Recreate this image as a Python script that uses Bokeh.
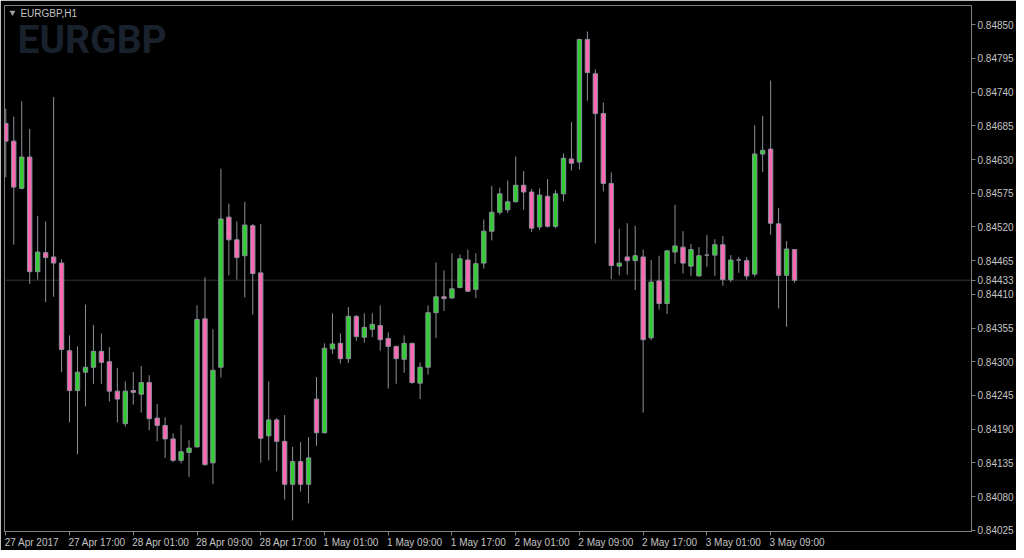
from bokeh.plotting import figure
from bokeh.models import Range1d, FixedTicker, Span, Label, PrintfTickFormatter, LinearAxis
from bokeh.embed import file_html
from bokeh.resources import INLINE

symbol = "EURGBP"
title_text = "EURGBP,H1"

opens = [
    0.84689, 0.84660, 0.84583, 0.84634, 0.84447, 0.84478, 0.84471, 0.84461, 0.84318, 0.84253,
    0.84283, 0.84291, 0.84317, 0.84300, 0.84252, 0.84199, 0.84253, 0.84247, 0.84266, 0.84208,
    0.84196, 0.84174, 0.84139, 0.84152, 0.84161, 0.84370, 0.84135, 0.84291, 0.84536, 0.84499,
    0.84473, 0.84522, 0.84445, 0.84179, 0.84205, 0.84170, 0.84100, 0.84137, 0.84100, 0.84239,
    0.84184, 0.84321, 0.84330, 0.84305, 0.84374, 0.84340, 0.84353, 0.84359, 0.84338, 0.84325,
    0.84304, 0.84330, 0.84265, 0.84291, 0.84380, 0.84406, 0.84404, 0.84421, 0.84466, 0.84418,
    0.84461, 0.84513, 0.84544, 0.84548, 0.84561, 0.84588, 0.84577, 0.84520, 0.84570, 0.84521,
    0.84574, 0.84631, 0.84626, 0.84826, 0.84770, 0.84705, 0.84591, 0.84456, 0.84471, 0.84465,
    0.84471, 0.84339, 0.84432, 0.84395, 0.84479, 0.84487, 0.84456, 0.84440, 0.84474, 0.84474,
    0.84491, 0.84434, 0.84466, 0.84465, 0.84443, 0.84639, 0.84647, 0.84525, 0.84441, 0.84483,
]
closes = [
    0.84660, 0.84585, 0.84634, 0.84447, 0.84479, 0.84470, 0.84461, 0.84320, 0.84253, 0.84283,
    0.84291, 0.84317, 0.84299, 0.84252, 0.84239, 0.84252, 0.84250, 0.84266, 0.84207, 0.84196,
    0.84174, 0.84139, 0.84153, 0.84159, 0.84369, 0.84132, 0.84286, 0.84533, 0.84499, 0.84470,
    0.84523, 0.84444, 0.84175, 0.84205, 0.84170, 0.84100, 0.84137, 0.84100, 0.84143, 0.84184,
    0.84322, 0.84329, 0.84305, 0.84374, 0.84341, 0.84356, 0.84361, 0.84336, 0.84325, 0.84305,
    0.84330, 0.84266, 0.84291, 0.84380, 0.84406, 0.84403, 0.84419, 0.84468, 0.84415, 0.84460,
    0.84513, 0.84544, 0.84574, 0.84561, 0.84588, 0.84577, 0.84518, 0.84572, 0.84521, 0.84574,
    0.84632, 0.84624, 0.84826, 0.84772, 0.84705, 0.84591, 0.84457, 0.84461, 0.84465, 0.84473,
    0.84336, 0.84430, 0.84395, 0.84481, 0.84489, 0.84461, 0.84483, 0.84473, 0.84474, 0.84491,
    0.84434, 0.84466, 0.84466, 0.84440, 0.84639, 0.84645, 0.84526, 0.84441, 0.84484, 0.84433,
]
highs = [
    0.84713, 0.84700, 0.84725, 0.84680, 0.84538, 0.84529, 0.84732, 0.84467, 0.84343, 0.84325,
    0.84393, 0.84360, 0.84346, 0.84324, 0.84290, 0.84268, 0.84283, 0.84293, 0.84278, 0.84231,
    0.84209, 0.84183, 0.84197, 0.84172, 0.84392, 0.84438, 0.84353, 0.84615, 0.84558, 0.84529,
    0.84561, 0.84525, 0.84525, 0.84268, 0.84208, 0.84213, 0.84161, 0.84169, 0.84177, 0.84275,
    0.84330, 0.84379, 0.84346, 0.84389, 0.84376, 0.84379, 0.84379, 0.84392, 0.84348, 0.84326,
    0.84343, 0.84331, 0.84299, 0.84392, 0.84462, 0.84449, 0.84477, 0.84475, 0.84483, 0.84477,
    0.84532, 0.84587, 0.84584, 0.84596, 0.84635, 0.84611, 0.84582, 0.84583, 0.84598, 0.84580,
    0.84640, 0.84691, 0.84827, 0.84839, 0.84777, 0.84723, 0.84609, 0.84517, 0.84526, 0.84522,
    0.84483, 0.84466, 0.84473, 0.84481, 0.84556, 0.84513, 0.84492, 0.84487, 0.84507, 0.84500,
    0.84505, 0.84474, 0.84471, 0.84471, 0.84686, 0.84701, 0.84759, 0.84551, 0.84497, 0.84484,
]
lows = [
    0.84601, 0.84491, 0.84581, 0.84427, 0.84434, 0.84397, 0.84406, 0.84283, 0.84201, 0.84149,
    0.84227, 0.84264, 0.84264, 0.84235, 0.84201, 0.84194, 0.84230, 0.84217, 0.84188, 0.84170,
    0.84143, 0.84136, 0.84134, 0.84112, 0.84160, 0.84130, 0.84100, 0.84274, 0.84441, 0.84434,
    0.84405, 0.84377, 0.84135, 0.84139, 0.84121, 0.84075, 0.84041, 0.84088, 0.84069, 0.84163,
    0.84183, 0.84313, 0.84297, 0.84298, 0.84334, 0.84331, 0.84340, 0.84318, 0.84256, 0.84264,
    0.84282, 0.84264, 0.84239, 0.84279, 0.84339, 0.84383, 0.84403, 0.84420, 0.84414, 0.84404,
    0.84452, 0.84498, 0.84540, 0.84543, 0.84560, 0.84548, 0.84512, 0.84515, 0.84519, 0.84518,
    0.84562, 0.84612, 0.84614, 0.84726, 0.84493, 0.84578, 0.84435, 0.84441, 0.84442, 0.84417,
    0.84217, 0.84335, 0.84385, 0.84378, 0.84460, 0.84444, 0.84440, 0.84439, 0.84455, 0.84440,
    0.84424, 0.84430, 0.84445, 0.84434, 0.84439, 0.84610, 0.84507, 0.84387, 0.84357, 0.84429,
]

time_tick_index = [0, 8, 16, 24, 32, 40, 48, 56, 64, 72, 80, 88, 96]
time_tick_labels = [
    "27 Apr 2017", "27 Apr 17:00", "28 Apr 01:00", "28 Apr 09:00", "28 Apr 17:00",
    "1 May 01:00", "1 May 09:00", "1 May 17:00", "2 May 01:00", "2 May 09:00",
    "2 May 17:00", "3 May 01:00", "3 May 09:00",
]
price_ticks = [
    0.84025, 0.84080, 0.84135, 0.84190, 0.84245, 0.84300, 0.84355, 0.84410,
    0.84465, 0.84520, 0.84575, 0.84630, 0.84685, 0.84740, 0.84795, 0.84850,
]
last_price = 0.84433

# ---- styling / layout ----
BG = "#000000"
FG = "#c4c4c4"
FRAME = "#808080"
WICK = "#8a909a"
BULL = "#32cd32"
BEAR = "#ff69b4"
FONT = "Liberation Sans"
FS = 10

W, H = 1016, 550
FL, FT = 4, 5            # frame left / top (px)
FW, FH = 971, 528        # approx frame size (px)
X0 = -0.1625
X1 = X0 + FW / 8.0       # 8 px per hourly bar
Y1 = 0.848814
Y0 = 0.840229
PPU = FW / (X1 - X0)


def xd(px):
    return X0 + (px - FL) / PPU


def yd(py):
    return Y1 - (py - FT) * (Y1 - Y0) / FH


# approximate advance widths (em) of Liberation Sans, used to left-align
# the time labels to their tick marks
_CW = {"A": 0.667, "M": 0.833, "p": 0.556, "r": 0.333, "a": 0.556, "y": 0.5,
       " ": 0.278, ":": 0.278}


def text_w(s):
    return sum(_CW.get(ch, 0.556) for ch in s) * FS


p = figure(
    width=W, height=H,
    x_range=Range1d(X0, X1), y_range=Range1d(Y0, Y1),
    output_backend="svg", toolbar_location=None,
    y_axis_location="right", x_axis_location=None,
    background_fill_color=BG, border_fill_color=BG,
    min_border_left=FL, min_border_top=FT,
    min_border_right=41, min_border_bottom=15,
)
p.outline_line_color = FRAME
p.outline_line_width = 1
p.grid.visible = False

# y axis (right); the last price is also marked on the scale
ya = p.yaxis[0]
ya.ticker = FixedTicker(ticks=price_ticks + [last_price])
ya.formatter = PrintfTickFormatter(format="%.5f")
ya.major_tick_out = 4
ya.major_tick_in = 0
ya.minor_tick_out = 0
ya.minor_tick_in = 0
ya.major_tick_line_color = FRAME
ya.axis_line_color = FRAME
ya.major_label_standoff = 2
ya.major_label_text_color = FG
ya.major_label_text_font = FONT
ya.major_label_text_font_size = f"{FS}px"

# x axis: tick marks (minor ticks) at the bars, labels placed so they start at the tick
centers = [round(i + (text_w(t) / 2 - 1) / PPU, 4) for i, t in zip(time_tick_index, time_tick_labels)]
xa = LinearAxis(
    ticker=FixedTicker(ticks=centers, minor_ticks=time_tick_index),
    major_label_overrides={c: t for c, t in zip(centers, time_tick_labels)},
    major_tick_out=0, major_tick_in=0,
    minor_tick_out=4, minor_tick_in=0,
    minor_tick_line_color=FRAME, major_tick_line_color=None,
    axis_line_color=FRAME,
    major_label_standoff=1,
    major_label_text_color=FG, major_label_text_font=FONT,
    major_label_text_font_size=f"{FS}px",
)
p.add_layout(xa, "below")

# current price line
p.add_layout(Span(location=last_price, dimension="width", line_color="#333333",
                  line_width=1, level="underlay"))

# candles
xs = list(range(len(opens)))
tops = [max(o, c) for o, c in zip(opens, closes)]
bots = [min(o, c) for o, c in zip(opens, closes)]
colors = [BULL if c > o else (BEAR if c < o else WICK) for o, c in zip(opens, closes)]

p.segment(x0=xs, y0=highs, x1=xs, y1=lows, line_color=WICK, line_width=1)
p.vbar(x=xs, width=0.55, top=tops, bottom=bots, fill_color=colors,
       line_color=WICK, line_width=1)

# watermark + title
p.add_layout(Label(
    x=xd(17), y=yd(40), text=symbol, text_align="left", text_baseline="middle",
    text_color="#19212d", text_font="Roboto",
    text_font_style="bold", text_font_size="39px", level="underlay",
))
p.add_layout(Label(
    x=xd(20), y=yd(13), text=title_text, text_align="left", text_baseline="middle",
    text_color=FG, text_font=FONT, text_font_size=f"{FS}px",
))
p.scatter(x=[xd(12)], y=[yd(12)], marker="inverted_triangle", size=6,
          fill_color="#a0a0a0", line_color=None)

open("out.html", "w").write(file_html(p, INLINE))
